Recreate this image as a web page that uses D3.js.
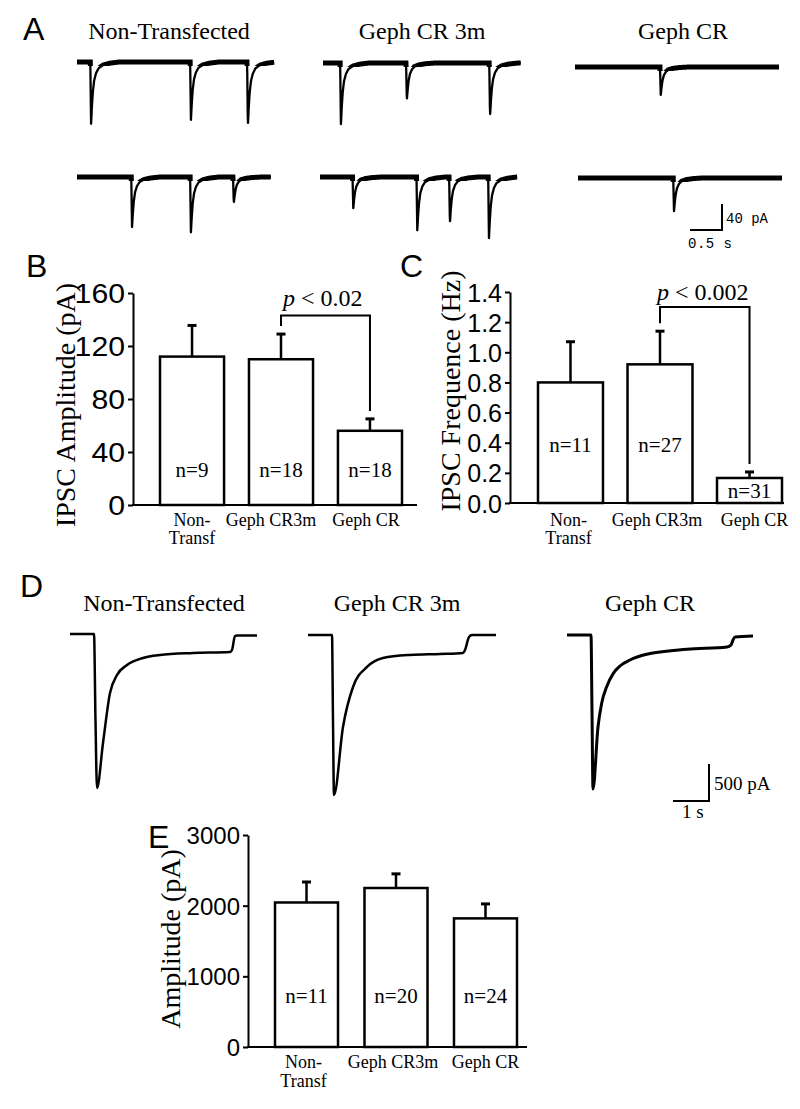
<!DOCTYPE html>
<html><head><meta charset="utf-8">
<script src="https://cdn.jsdelivr.net/npm/d3@7"></script>
<style>body{margin:0;background:#fff}svg{display:block}</style>
</head><body>
<svg id="c" width="800" height="1109"></svg>
<script>
// ---------------- DATA ----------------
const groups = ["Non-Transfected", "Geph CR 3m", "Geph CR"];
const barCats = ["Non-\nTransf", "Geph CR3m", "Geph CR"];

// Panel B: IPSC amplitude (pA)
const ampB = [112, 110, 56];
const semB = [23.5, 19, 9];
const nB = [9, 18, 18];
const ticksB = [0, 40, 80, 120, 160];
const sigB = {from: 1, to: 2, level: 143, label: "< 0.02"};

// Panel C: IPSC frequency (Hz)
const freqC = [0.80, 0.92, 0.166];
const semC = [0.27, 0.22, 0.04];
const nC = [11, 27, 31];
const ticksC = [0, 0.2, 0.4, 0.6, 0.8, 1.0, 1.2, 1.4];
const sigC = {from: 1, to: 2, level: 1.30, label: "< 0.002"};

// Panel E: evoked amplitude (pA)
const ampE = [2045, 2250, 1820];
const semE = [290, 200, 205];
const nE = [11, 20, 24];
const ticksE = [0, 1000, 2000, 3000];

// Panel A: spontaneous IPSC traces (events: [time s, amplitude pA])
const kernelA = [[0,0],[0.012,1],[0.025,0.72],[0.04,0.48],[0.06,0.3],[0.09,0.18],[0.13,0.1],[0.2,0.05],[0.3,0.02],[0.45,0]];
const tracesA = [
  {dur: 3.08, events: [[0.22, 95], [1.78, 89], [2.67, 98]]},
  {dur: 3.09, events: [[0.28, 94], [1.31, 57], [2.61, 82]]},
  {dur: 3.19, events: [[1.34, 43]]},
  {dur: 3.03, events: [[0.86, 77], [1.78, 85], [2.45, 40]]},
  {dur: 3.08, events: [[0.52, 48], [1.52, 82], [2.03, 71], [2.64, 94]]},
  {dur: 3.19, events: [[1.50, 51]]}
];
const scaleBarA = {t: 0.5, i: 40};

// Panel D: evoked IPSC traces ([time s, inward current pA])
const traceD_NT = [[0,0],[0.667,0],[0.708,1162],[0.75,2081],[0.917,1473],[1.111,797],[1.306,554],[1.583,419],[2.028,324],[2.5,284],[3.417,257],[4.444,243],[4.5,216],[4.583,27],[4.64,20],[5.194,20]];
const traceD_3m = [[0,0],[0.667,0],[0.694,1149],[0.722,2162],[0.972,1243],[1.25,703],[1.639,432],[2.083,311],[2.833,270],[3.667,257],[4.306,243],[4.361,203],[4.472,27],[4.556,0],[5.222,0]];
const traceD_CR = [[0,0],[0.667,0],[0.694,1014],[0.722,2081],[0.861,1243],[0.963,923],[1.102,698],[1.287,518],[1.472,419],[1.75,338],[2.213,261],[3.333,193],[4.444,162],[4.556,135],[4.611,68],[4.667,27],[5.167,14]];
const scaleBarD = {t: 1, i: 500};

// ---------------- DRAWING ----------------
const svg = d3.select("#c");
const SERIF = "'Liberation Serif','Times New Roman',serif";
const SANS = "'Liberation Sans',Arial,sans-serif";
const MONO = "'Liberation Mono','DejaVu Sans Mono',monospace";

function panelLabel(txt, x, y) {
  svg.append("text").attr("x", x).attr("y", y).attr("font-family", SANS)
    .attr("font-size", 32).text(txt);
}
function title(txt, x, y) {
  svg.append("text").attr("x", x).attr("y", y).attr("font-family", SERIF)
    .attr("font-size", 24).attr("text-anchor", "middle").text(txt);
}

// ----- Panel A -----
panelLabel("A", 23, 40);
const titleAx = [169, 422, 683];
groups.forEach((g, i) => title(g, titleAx[i], 39));

const tA = d3.scaleLinear().domain([0, 0.5]).range([0, 32]);
const iA = d3.scaleLinear().domain([0, 40]).range([0, 26]);
const posA = [[77, 62], [323, 63], [575, 67], [77, 177], [320, 177], [578, 178]];

function kern(dt) {
  if (dt <= 0 || dt >= kernelA[kernelA.length - 1][0]) return 0;
  for (let k = 1; k < kernelA.length; k++) {
    if (dt <= kernelA[k][0]) {
      const [t0, v0] = kernelA[k - 1], [t1, v1] = kernelA[k];
      return v0 + (v1 - v0) * (dt - t0) / (t1 - t0);
    }
  }
  return 0;
}
const defs = svg.append("defs");
tracesA.forEach((tr, idx) => {
  const [x0, y0] = posA[idx];
  const pts = d3.range(0, tr.dur + 1e-9, 0.004).map(t => {
    let v = 0;
    tr.events.forEach(([te, a]) => { v += a * kern(t - te + 0.012); });
    return [t, v];
  });
  const line = d3.line().x(d => x0 + tA(d[0])).y(d => y0 + iA(d[1]));
  const cid = "clipA" + idx;
  defs.append("clipPath").attr("id", cid).append("rect")
    .attr("x", x0 - 5).attr("y", y0 - 4).attr("width", tA(tr.dur) + 10).attr("height", 8);
  svg.append("path").attr("d", line(pts)).attr("fill", "none").attr("stroke", "#000")
    .attr("stroke-width", 2.3).attr("stroke-linejoin", "round");
  svg.append("path").attr("d", line(pts)).attr("fill", "none").attr("stroke", "#000")
    .attr("stroke-width", 5).attr("clip-path", `url(#${cid})`);
});
// scale bar A
{
  const bx = 722, by = 230;
  svg.append("path").attr("d", `M${bx - tA(scaleBarA.t)},${by}H${bx}V${by - iA(scaleBarA.i)}`)
    .attr("fill", "none").attr("stroke", "#000").attr("stroke-width", 2);
  svg.append("text").attr("x", 726).attr("y", 223).attr("font-family", MONO).attr("font-size", 14)
    .text(scaleBarA.i + " pA");
  svg.append("text").attr("x", 688).attr("y", 248).attr("font-family", MONO).attr("font-size", 14)
    .attr("letter-spacing", 0.5).text(scaleBarA.t + " s");
}

// ----- Bar panels -----
function barPanel(o) {
  const y = d3.scaleLinear().domain(o.domain).range([o.yBottom, o.yTop]);
  const x = d3.scaleBand().domain(barCats).range(o.barRange).paddingInner(o.pad).paddingOuter(0);
  const g = svg.append("g");
  // y axis
  const ax = g.append("g").attr("transform", `translate(${o.axisX},0)`)
    .call(d3.axisLeft(y).tickValues(o.ticks).tickFormat(o.fmt).tickSize(5).tickPadding(3).tickSizeOuter(0));
  ax.select(".domain").attr("stroke-width", 2);
  ax.selectAll(".tick line").attr("stroke-width", 2);
  ax.selectAll(".tick text").attr("font-family", SANS).attr("font-size", o.tickFont)
    .attr("fill", "#000").attr("dy", "0.36em")
    .attr("x", -8 / o.tickSX).attr("transform", `scale(${o.tickSX},1)`);
  // x axis line
  g.append("line").attr("x1", o.axisX - 1).attr("x2", o.axisEnd).attr("y1", y(0)).attr("y2", y(0))
    .attr("stroke", "#000").attr("stroke-width", 2);
  // bars
  barCats.forEach((c, i) => {
    const cx = x(c) + x.bandwidth() / 2;
    const top = y(o.values[i]), et = y(o.values[i] + o.sems[i]);
    g.append("line").attr("x1", cx).attr("x2", cx).attr("y1", top).attr("y2", et)
      .attr("stroke", "#000").attr("stroke-width", 2.5);
    g.append("line").attr("x1", cx - 4.5).attr("x2", cx + 4.5).attr("y1", et).attr("y2", et)
      .attr("stroke", "#000").attr("stroke-width", 3);
    g.append("rect").attr("x", x(c)).attr("y", top).attr("width", x.bandwidth())
      .attr("height", y(0) - top).attr("fill", "#fff").attr("stroke", "#000").attr("stroke-width", 2.5);
    g.append("text").attr("x", cx).attr("y", o.nY[i]).attr("text-anchor", "middle")
      .attr("font-family", SERIF).attr("font-size", 21).text("n=" + o.ns[i]);
    const lines = c.split("\n");
    lines.forEach((ln, k) => {
      g.append("text").attr("x", cx + o.labOff[i]).attr("y", o.labY + k * o.labGap)
        .attr("text-anchor", "middle").attr("font-family", SERIF).attr("font-size", 18).text(ln);
    });
  });
  // y title
  g.append("text").attr("transform", `translate(${o.titleX},${o.titleY}) rotate(-90)`)
    .attr("text-anchor", "middle").attr("font-family", SERIF).attr("font-size", 28).text(o.title);
  // significance bracket
  if (o.sig) {
    const s = o.sig;
    const xa = x(barCats[s.from]) + x.bandwidth() / 2, xb = x(barCats[s.to]) + x.bandwidth() / 2;
    const ya = y(o.values[s.from] + o.sems[s.from]) - 8, yb = y(o.values[s.to] + o.sems[s.to]) - 8;
    const yl = y(s.level);
    g.append("path").attr("d", `M${xa},${ya}V${yl}H${xb}V${yb}`).attr("fill", "none")
      .attr("stroke", "#000").attr("stroke-width", 2);
    const t = g.append("text").attr("x", xa + o.sigDx).attr("y", yl - o.sigDy)
      .attr("font-family", SERIF).attr("font-size", 24);
    t.append("tspan").attr("font-style", "italic").text("p");
    t.append("tspan").text(" " + s.label);
  }
}

panelLabel("B", 26, 277);
barPanel({domain: [0, 160], yTop: 293, yBottom: 505, axisX: 133, axisEnd: 417,
  barRange: [160, 402], pad: 0.28, ticks: ticksB, fmt: d3.format("d"), tickFont: 27, tickSX: 1.12,
  values: ampB, sems: semB, ns: nB, nY: [477, 477, 477], labY: 526, labGap: 18, labOff: [0, -10, -4],
  title: "IPSC Amplitude (pA)", titleX: 75, titleY: 405, sig: sigB, sigDx: 2, sigDy: 10});

panelLabel("C", 400, 277);
barPanel({domain: [0, 1.4], yTop: 292, yBottom: 503, axisX: 510, axisEnd: 784,
  barRange: [538, 782], pad: 0.274, ticks: ticksC, fmt: d3.format(".1f"), tickFont: 25, tickSX: 1,
  values: freqC, sems: semC, ns: nC, nY: [452, 452, 498], labY: 526, labGap: 18, labOff: [-2, -3, 5],
  title: "IPSC Frequence (Hz)", titleX: 460, titleY: 391, sig: sigC, sigDx: -3, sigDy: 7});

// ----- Panel D -----
panelLabel("D", 20, 597);
const titleDx = [164, 397, 650];
groups.forEach((g, i) => title(g, titleDx[i], 611));
const tD = d3.scaleLinear().domain([0, 1]).range([0, 36]);
const iD = d3.scaleLinear().domain([0, 500]).range([0, 37]);
const posD = [[70, 634], [308, 635], [567, 635]];
[traceD_NT, traceD_3m, traceD_CR].forEach((tr, i) => {
  const [x0, y0] = posD[i];
  const line = d3.line().x(d => x0 + tD(d[0])).y(d => y0 + iD(d[1])).curve(d3.curveMonotoneX);
  svg.append("path").attr("d", line(tr)).attr("fill", "none").attr("stroke", "#000")
    .attr("stroke-width", i === 2 ? 3 : 2.5).attr("stroke-linejoin", "round");
});
{
  const bx = 709, by = 801;
  svg.append("path").attr("d", `M${bx - tD(scaleBarD.t)},${by}H${bx}V${by - iD(scaleBarD.i)}`)
    .attr("fill", "none").attr("stroke", "#000").attr("stroke-width", 2);
  svg.append("text").attr("x", 714).attr("y", 790).attr("font-family", SERIF).attr("font-size", 19)
    .text(scaleBarD.i + " pA");
  svg.append("text").attr("x", 682).attr("y", 818).attr("font-family", SERIF).attr("font-size", 19)
    .text(scaleBarD.t + " s");
}

// ----- Panel E -----
panelLabel("E", 148, 848);
barPanel({domain: [0, 3000], yTop: 835, yBottom: 1047, axisX: 248, axisEnd: 527,
  barRange: [275, 517], pad: 0.296, ticks: ticksE, fmt: d3.format("d"), tickFont: 24, tickSX: 1,
  values: ampE, sems: semE, ns: nE, nY: [1003, 1003, 1003], labY: 1068, labGap: 19, labOff: [-3, -3, 0],
  title: "Amplitude (pA)", titleX: 180, titleY: 939, sig: null});
</script>
</body></html>
